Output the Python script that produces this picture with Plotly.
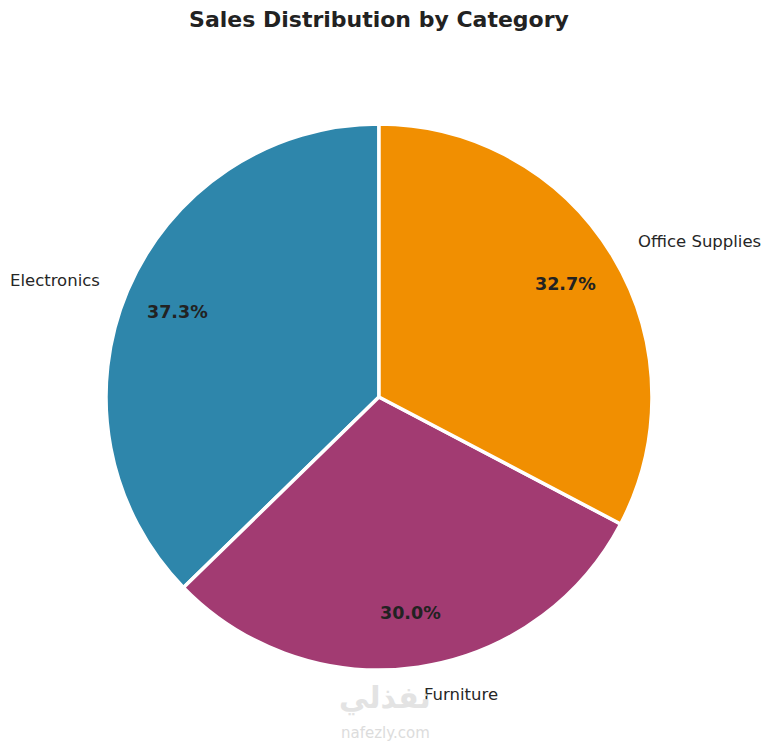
import numpy as np
import plotly.graph_objects as go

# % data
categories = ["Electronics", "Furniture", "Office Supplies"]
shares = [37.3, 30.0, 32.7]
colors = ["#2E86AB", "#A23B72", "#F18F01"]

# %% slice angles (start at 12 o'clock, counterclockwise like matplotlib startangle=90)
vals = np.array(shares)
ends = 90 + np.cumsum(vals) / vals.sum() * 360
starts = ends - vals / vals.sum() * 360
mids = np.radians((starts + ends) / 2)

fig = go.Figure()

# plotly's counterclockwise mode puts the first slice on the clockwise side of
# the rotation angle, so turn it back by the first slice
fig.add_trace(
    go.Pie(
        labels=categories,
        values=shares,
        sort=False,
        direction="counterclockwise",
        rotation=-float(vals[0] / vals.sum() * 360),
        marker=dict(colors=colors, line=dict(color="white", width=3.5)),
        textinfo="none",
        hoverinfo="label+percent",
        showlegend=False,
        domain=dict(x=[0, 1], y=[0, 1]),
    )
)

# %%% labels outside (1.1 r) and percentages inside (0.8 r)
for cat, v, a in zip(categories, shares, mids):
    cx, cy = np.cos(a), np.sin(a)
    fig.add_annotation(
        x=0.5 + 0.5 * 1.1 * cx,
        y=0.5 + 0.5 * 1.1 * cy,
        xref="paper", yref="paper",
        text=cat,
        showarrow=False,
        xanchor="left" if cx > 0 else "right",
        yanchor="middle",
        font=dict(family="DejaVu Sans", size=16.5, color="#262626"),
    )
    fig.add_annotation(
        x=0.5 + 0.5 * 0.8 * cx,
        y=0.5 + 0.5 * 0.8 * cy,
        xref="paper", yref="paper",
        text="<b>%.1f%%</b>" % (v / vals.sum() * 100),
        showarrow=False,
        xanchor="center",
        yanchor="middle",
        font=dict(family="DejaVu Sans", size=17.5, color="#222222"),
    )

# watermark
fig.add_annotation(
    x=0.511, y=-0.088, xref="paper", yref="paper",
    text="<b>نفذلي</b>", showarrow=False,
    font=dict(family="DejaVu Sans", size=30, color="#e3e3e3"),
)
fig.add_annotation(
    x=0.511, y=-0.135, xref="paper", yref="paper",
    text="nafezly.com", showarrow=False,
    font=dict(family="DejaVu Sans", size=15, color="#dcdcdc"),
)

# page has an 8px body margin, so the figure is a bit smaller than the window
fig.update_layout(
    width=756,
    height=735,
    margin=dict(l=98, r=112, t=116, b=73),
    paper_bgcolor="white",
    plot_bgcolor="white",
    title=dict(
        text="<b>Sales Distribution by Category</b>",
        x=0.5, xref="paper", xanchor="center",
        y=1 - 11 / 735, yref="container", yanchor="middle",
        font=dict(family="DejaVu Sans", size=22, color="#222222"),
    ),
)

fig.write_html("out.html")
